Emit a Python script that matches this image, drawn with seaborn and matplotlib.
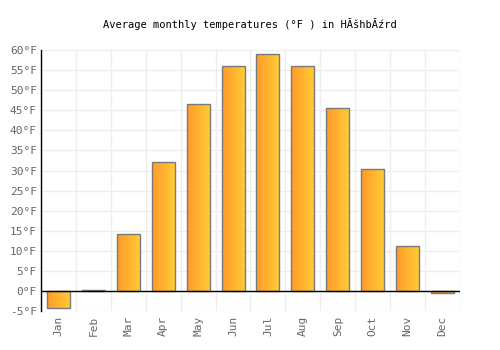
import numpy as np
import pandas as pd
import matplotlib
matplotlib.use("Agg")
import matplotlib.pyplot as plt
import seaborn as sns
from matplotlib.colors import LinearSegmentedColormap

months = ['Jan', 'Feb', 'Mar', 'Apr', 'May', 'Jun', 'Jul', 'Aug', 'Sep', 'Oct', 'Nov', 'Dec']
temps_f = [-4.2, 0.2, 14.2, 32.1, 46.5, 56.0, 59.0, 56.0, 45.6, 30.4, 11.2, -0.6]
y_ticks = list(range(-5, 61, 5))
y_labels = [f"{v}°F" for v in y_ticks]
title = "Average monthly temperatures (°F ) in H\u0102\u0161hb\u0102\u017ard"

df = pd.DataFrame({'month': months, 'temp': temps_f})

sns.set_style("white")
plt.rcParams['font.family'] = ['DejaVu Sans Mono', 'DejaVu Sans']

fig = plt.figure(figsize=(5, 3.5), dpi=100)
ax = fig.add_axes([0.082, 0.111, 0.838, 0.746])

sns.barplot(data=df, x='month', y='temp', ax=ax, width=0.66,
            color='#ffb030', edgecolor='#777777', linewidth=1, zorder=3)

# gradient fill, orange on the left to yellow on the right
grad = LinearSegmentedColormap.from_list('og', ['#ff9a2a', '#ffcd36'])
g = np.linspace(0, 1, 64).reshape(1, -1)
for p in ax.patches:
    x0, y0 = p.get_x(), p.get_y()
    w, h = p.get_width(), p.get_height()
    im = ax.imshow(g, cmap=grad, aspect='auto', zorder=2,
                   extent=[x0, x0 + w, min(y0, y0 + h), max(y0, y0 + h)])
    im.set_clip_path(p)
    p.set_facecolor('none')
    p.set_edgecolor('#7a7a7a')

ax.set_xlim(-0.5, len(months) - 0.5)
ax.set_ylim(-5, 60)
ax.set_yticks(y_ticks)
ax.set_yticklabels(y_labels)
ax.set_xticks(range(len(months)))
ax.set_xticklabels(months, rotation=90)
ax.set_xticks(np.arange(-0.5, len(months), 1), minor=True)
ax.grid(True, axis='y', color='#eeeeee', linewidth=1, zorder=0)
ax.grid(True, axis='x', which='minor', color='#eeeeee', linewidth=1, zorder=0)
ax.set_axisbelow(True)
ax.axhline(0, color='black', linewidth=1, zorder=4)

ax.tick_params(axis='both', which='both', length=0, labelsize=8, colors='#666666', pad=3)
ax.set_xlabel('')
ax.set_ylabel('')
for s in ['top', 'right', 'bottom']:
    ax.spines[s].set_visible(False)
ax.spines['left'].set_color('black')
ax.spines['left'].set_linewidth(1)

fig.text(0.5, 0.93, title, ha='center', va='center', fontsize=7.5, color='black')

fig.savefig('out.png', dpi=100)
